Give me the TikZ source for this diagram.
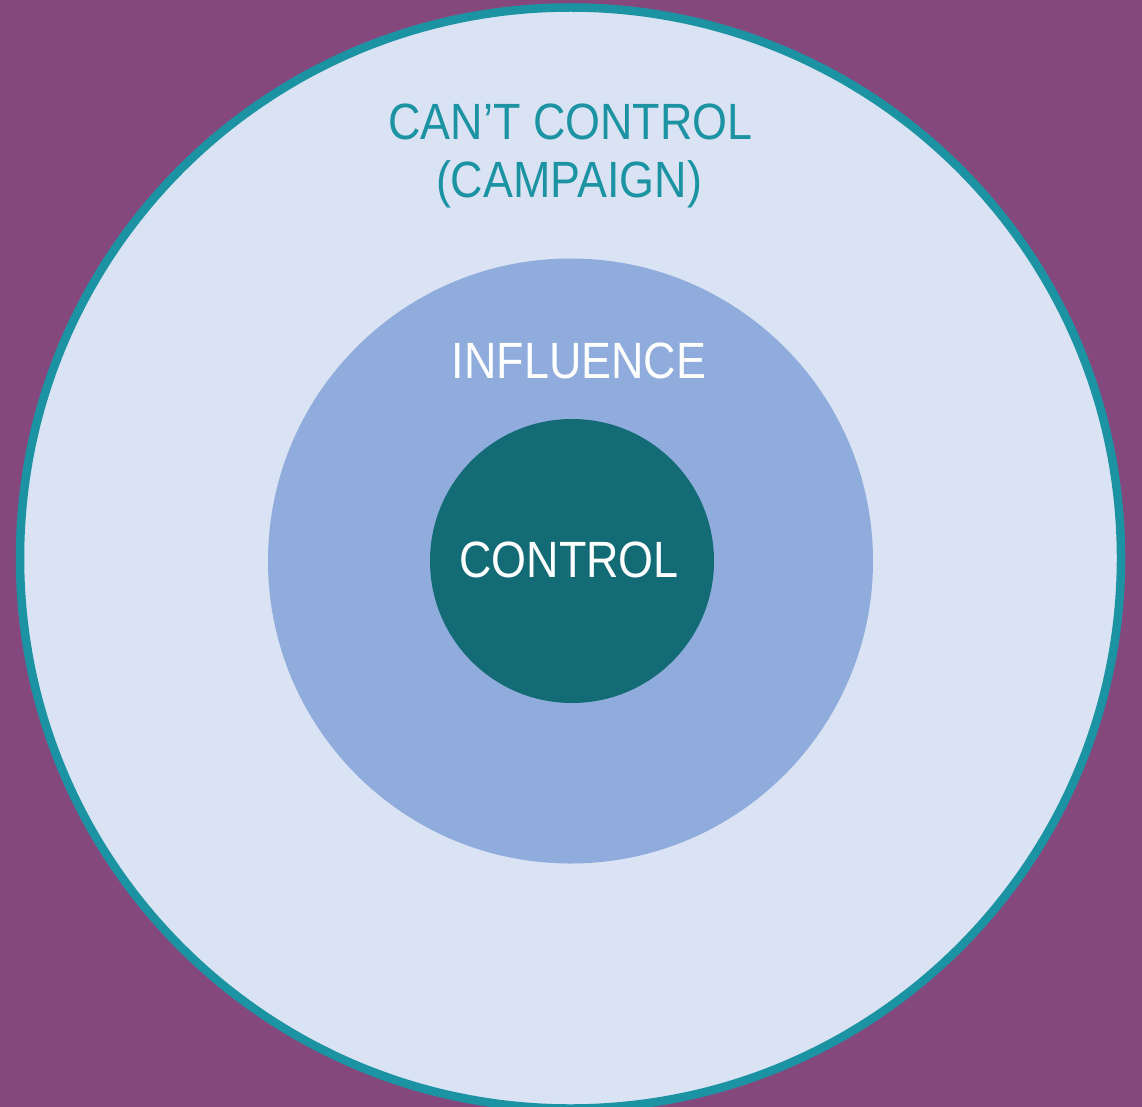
\documentclass[tikz,border=0pt]{standalone}
\usepackage{fontspec}
\newfontfamily\ringfont[FakeStretch=0.88]{Liberation Sans}
\usepackage{tikz}
\usetikzlibrary{positioning}

\definecolor{bgpurple}{HTML}{85487D}
\definecolor{ringedge}{HTML}{1B93A3}
\definecolor{outerfill}{HTML}{DAE3F3}
\definecolor{midfill}{HTML}{8FACDD}
\definecolor{corefill}{HTML}{136B76}

\begin{document}
\begin{tikzpicture}[
      x=1pt,y=-1pt,
      ring/.style ={circle,inner sep=0pt,outer sep=0pt},
      lbl/.style  ={anchor=base,inner sep=0pt,font=\ringfont\fontsize{51}{58}\selectfont}]
      % Background and frame
      \fill[bgpurple] (0,0) rectangle (1142,1107);
      \clip (0,0) rectangle (1142,1107);
      % Rings, outermost first
      \node[ring,draw=ringedge,line width=8.5pt,fill=outerfill,minimum size=1101pt] (outer) at (570.5,558) {};
      \node[ring,fill=midfill,minimum size=605pt] (mid) at (570.5,561) {};
      \node[ring,fill=corefill,minimum size=284pt] (core) at (572,561) {};
      % Labels
      \node[lbl,text=ringedge] (cant) at (570.5,140) {CAN’T CONTROL};
      \node[lbl,text=ringedge] (campaign) at (569,198) {(CAMPAIGN)};
      \node[lbl,text=white] (influence) at (579,378) {INFLUENCE};
      \node[lbl,text=white] (control) at (569,577) {CONTROL};
  \end{tikzpicture}
\end{document}
